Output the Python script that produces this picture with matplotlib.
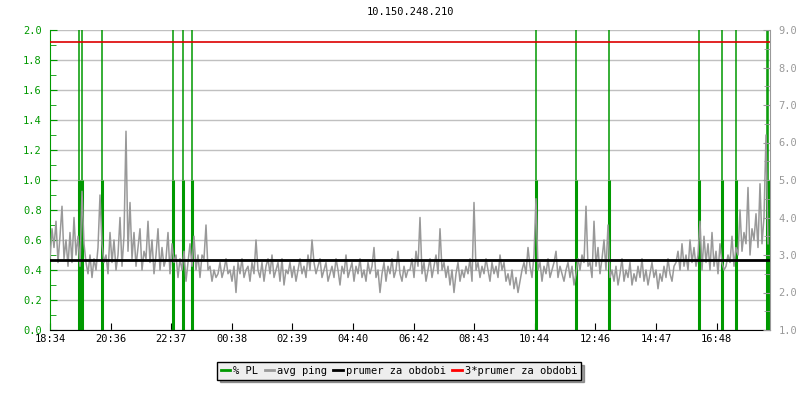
import matplotlib
matplotlib.use("Agg")
import matplotlib.pyplot as plt
import numpy as np
from matplotlib.lines import Line2D
from matplotlib.ticker import MultipleLocator

plt.rcParams['font.family'] = ['DejaVu Sans Mono']

GREEN = '#009900'
GREY = '#999999'
GRID = '#c0c0c0'

title = '10.150.248.210'
tick_labels = ['18:34', '20:36', '22:37', '00:38', '02:39', '04:40',
               '06:42', '08:43', '10:44', '12:46', '14:47', '16:48']
tick_step = 121.2  # minutes between labelled ticks

# avg ping (right axis), one sample every 4 minutes from 18:34
ping = [
    2.9, 3.7, 3.2, 3.9, 2.8, 3.5, 4.3, 2.9, 3.4, 2.7, 3.6, 2.8, 4.0, 3.0, 3.5,
    2.7, 4.7, 3.3, 2.8, 2.5, 3.0, 2.4, 2.9, 2.6, 3.2, 4.6, 3.3, 2.8, 3.0, 2.5,
    3.6, 2.8, 3.4, 2.6, 3.0, 4.0, 2.7, 3.5, 6.3, 3.1, 4.4, 2.9, 3.6, 2.7, 3.2,
    3.7, 2.6, 3.1, 2.9, 3.9, 2.8, 3.4, 2.5, 3.0, 3.7, 2.6, 3.2, 2.7, 2.9, 3.6,
    2.5, 3.3, 2.8, 3.0, 2.4, 2.9, 2.6, 3.1, 2.3, 2.8, 3.3, 2.7, 3.5, 2.6, 3.0,
    2.4, 3.0, 2.9, 3.8, 2.6, 2.7, 2.3, 2.6, 2.4, 2.5, 2.8, 2.4, 2.6, 2.9, 2.5,
    # 00:38 side
    2.6, 2.3, 2.7, 2.0, 2.8, 2.5, 2.9, 2.4, 2.6, 2.7, 2.3, 2.8, 2.5, 3.4, 2.6,
    2.4, 2.8, 2.3, 2.7, 2.9, 2.5, 3.0, 2.4, 2.6, 2.8, 2.3, 2.9, 2.2, 2.6, 2.5,
    2.8, 2.4, 2.7, 2.3, 2.6, 2.9, 2.5, 2.7, 2.4, 3.0, 2.6, 3.4, 2.8, 2.5, 2.7,
    2.9, 2.4, 2.6, 2.8, 2.3, 2.5, 2.7, 2.4, 2.9, 2.6, 2.2, 2.7, 2.5, 3.0, 2.4,
    2.6, 2.8, 2.3, 2.7, 2.5, 2.9, 2.4, 2.6, 2.3, 2.8, 2.5, 2.7, 3.2, 2.4, 2.6,
    2.0, 2.5, 2.8, 2.3, 2.7, 2.5, 2.9, 2.4, 2.6, 3.1, 2.5, 2.3, 2.7, 2.4, 2.6,
    # 06:42 side
    2.6, 2.9, 2.4, 3.1, 2.7, 4.0, 2.5, 2.8, 2.3, 2.6, 2.9, 2.4, 2.7, 3.0, 2.5,
    3.7, 2.6, 2.8, 2.4, 2.7, 2.2, 2.6, 2.0, 2.5, 2.8, 2.3, 2.6, 2.4, 2.7, 2.5,
    2.9, 2.3, 4.4, 2.6, 2.8, 2.4, 2.7, 2.5, 2.9, 2.6, 2.3, 2.8, 2.5, 2.7, 2.4,
    3.0, 2.6, 2.8, 2.3, 2.5, 2.2, 2.6, 2.1, 2.4, 2.0, 2.3, 2.6, 2.8, 2.5, 3.2,
    2.7, 2.4, 3.0, 4.5, 2.6, 2.8, 2.3, 2.7, 2.5, 2.9, 2.4, 2.6, 2.8, 3.1, 2.4,
    2.7, 2.5, 2.3, 2.6, 2.8, 2.4, 2.7, 2.2, 2.5, 2.9, 2.6, 3.0, 2.8, 4.3, 2.7,
    # 12:46 side
    2.8, 2.4, 3.9, 2.7, 3.2, 2.5, 2.9, 3.4, 2.6, 3.8, 2.4, 2.6, 2.3, 2.7, 2.2,
    2.5, 2.9, 2.3, 2.6, 2.4, 2.8, 2.2, 2.5, 2.3, 2.7, 2.4, 2.9, 2.3, 2.6, 2.2,
    2.5, 2.8, 2.4, 2.6, 2.1, 2.5, 2.3, 2.7, 2.4, 2.9, 2.5, 2.3, 2.7, 2.8, 3.1,
    2.6, 3.3, 2.7, 3.0, 2.6, 3.4, 2.8, 3.2, 2.7, 3.0, 3.9, 2.6, 3.5, 2.8, 3.3,
    2.6, 3.6, 2.7, 3.1, 2.5, 3.3, 2.8, 2.6, 2.7, 3.0, 2.8, 3.5, 2.7, 3.2, 3.0,
    4.2, 3.1, 3.6, 3.3, 4.8, 3.0, 3.7, 3.4, 4.1, 3.2, 4.9, 3.3, 4.0, 6.2, 3.3,
]

# packet loss events (minutes after 18:34) and their % PL
pl_minutes = [57, 63, 104, 246, 266, 284, 972, 1051, 1117, 1298, 1344, 1371, 1433, 1436]
pl_values = [100] * len(pl_minutes)

ping_mean = 2.88
ping_mean3 = 3 * 2.89

t = np.arange(len(ping)) * 4

fig = plt.figure(figsize=(8, 4), dpi=100)
ax = fig.add_axes([50 / 800, 70 / 400, 720 / 800, 300 / 400])
ax2 = ax.twinx()

# PL on left axis: thick up to 1, thin above
pl = np.array(pl_values, dtype=float)
ax.vlines(pl_minutes, 0, np.minimum(pl, 1.0), color=GREEN, lw=2.2, zorder=2)
ax.vlines(pl_minutes, 1.0, np.minimum(pl, 2.0), color=GREEN, lw=1.1, zorder=2)

ax.set_xlim(0, 1440)
ax.set_ylim(0, 2)
ax.yaxis.set_major_locator(MultipleLocator(0.2))
ax.yaxis.set_minor_locator(MultipleLocator(0.1))
ax.yaxis.set_major_formatter(plt.FormatStrFormatter('%.1f'))
ax.grid(axis='y', color=GRID, lw=1, zorder=0)
ax.set_axisbelow(True)
ax.set_xticks([i * tick_step for i in range(len(tick_labels))])
ax.set_xticklabels(tick_labels)

ax.tick_params(axis='y', which='both', direction='in', colors=GREEN,
               labelsize=7.5, pad=6)
ax.tick_params(axis='y', which='major', length=5)
ax.tick_params(axis='y', which='minor', length=4)
ax.tick_params(axis='x', direction='in', length=5, labelsize=7.5, pad=3,
               colors='black')

for s in ['top', 'right']:
    ax.spines[s].set_visible(False)
ax.spines['left'].set_color(GREEN)
ax.spines['bottom'].set_color('black')

# ping on right axis
ax2.plot(t, ping, color=GREY, lw=1.1, zorder=3)
ax2.axhline(ping_mean, color='black', lw=2, zorder=4)
ax2.axhline(ping_mean3, color='#dd0000', lw=1.2, zorder=4)
ax2.set_ylim(1, 9)
ax2.yaxis.set_major_locator(MultipleLocator(1))
ax2.yaxis.set_minor_locator(MultipleLocator(0.5))
ax2.yaxis.set_major_formatter(plt.FormatStrFormatter('%.1f'))
ax2.tick_params(axis='y', which='both', direction='in', colors=GREY,
                labelsize=7.5, pad=6)
ax2.tick_params(axis='y', which='major', length=5)
ax2.tick_params(axis='y', which='minor', length=4)
for s in ['top', 'left', 'bottom']:
    ax2.spines[s].set_visible(False)
ax2.spines['right'].set_color(GREY)

fig.text(410 / 800, 1 - 12 / 400, title, ha='center', va='center', fontsize=7.5)

handles = [Line2D([], [], color=GREEN, lw=2),
           Line2D([], [], color=GREY, lw=2),
           Line2D([], [], color='black', lw=2),
           Line2D([], [], color='#ff0000', lw=2)]
labels = ['% PL', 'avg ping', 'prumer za obdobi', '3*prumer za obdobi']
leg = fig.legend(handles, labels, loc='center', bbox_to_anchor=(399 / 800, 1 - 371 / 400),
                 ncol=4, fontsize=7.5, frameon=True, fancybox=False, shadow=True,
                 handlelength=0.9, handletextpad=0.3, columnspacing=0.6,
                 borderpad=0.35)
leg.get_frame().set_facecolor('#eeeeee')
leg.get_frame().set_edgecolor('black')
leg.get_frame().set_linewidth(1)

fig.savefig('out.png', dpi=100)
